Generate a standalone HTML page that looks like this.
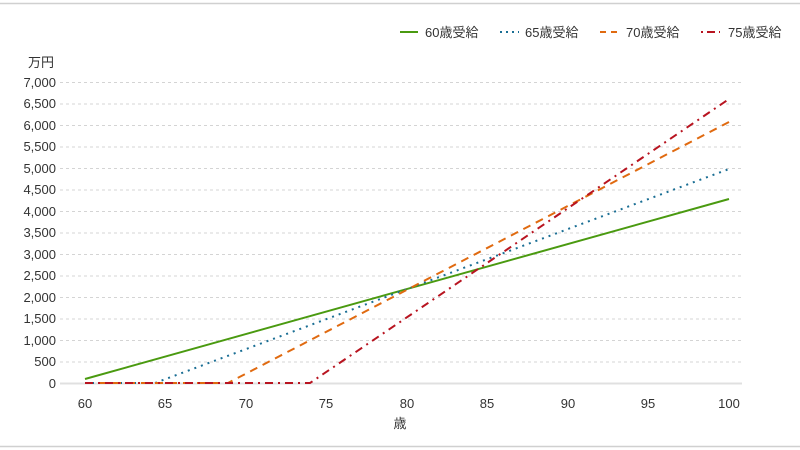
<!DOCTYPE html>
<html><head><meta charset="utf-8"><style>
body{margin:0;background:#fff;}
svg{display:block;font-family:"Liberation Sans","Noto Sans CJK JP",sans-serif;}
</style></head><body>
<svg width="800" height="450" viewBox="0 0 800 450">
<line x1="0" y1="3.5" x2="800" y2="3.5" stroke="#d0d0d0" stroke-width="1.5"/>
<line x1="0" y1="446.5" x2="800" y2="446.5" stroke="#d0d0d0" stroke-width="1.5"/>
<g stroke="#d4d4d4" stroke-width="1" stroke-dasharray="3,3">
<line x1="60" y1="82.5" x2="742" y2="82.5"/><line x1="60" y1="104" x2="742" y2="104"/>
<line x1="60" y1="125.5" x2="742" y2="125.5"/><line x1="60" y1="147" x2="742" y2="147"/>
<line x1="60" y1="168.5" x2="742" y2="168.5"/><line x1="60" y1="190" x2="742" y2="190"/>
<line x1="60" y1="211.5" x2="742" y2="211.5"/><line x1="60" y1="233" x2="742" y2="233"/>
<line x1="60" y1="254.5" x2="742" y2="254.5"/><line x1="60" y1="276" x2="742" y2="276"/>
<line x1="60" y1="297.5" x2="742" y2="297.5"/><line x1="60" y1="319" x2="742" y2="319"/>
<line x1="60" y1="340.5" x2="742" y2="340.5"/><line x1="60" y1="362" x2="742" y2="362"/>
</g>
<line x1="60" y1="383.5" x2="742" y2="383.5" stroke="#e0e0e0" stroke-width="2"/>
<g font-size="13" fill="#333" text-anchor="end">
<text x="56" y="87">7,000</text><text x="56" y="108">6,500</text><text x="56" y="130">6,000</text>
<text x="56" y="151">5,500</text><text x="56" y="173">5,000</text><text x="56" y="194">4,500</text>
<text x="56" y="216">4,000</text><text x="56" y="237">3,500</text><text x="56" y="259">3,000</text>
<text x="56" y="280">2,500</text><text x="56" y="302">2,000</text><text x="56" y="323">1,500</text>
<text x="56" y="345">1,000</text><text x="56" y="366">500</text><text x="56" y="388">0</text>
</g>
<text x="28" y="67" font-size="13" fill="#333">万円</text>
<g font-size="13" fill="#333" text-anchor="middle">
<text x="85" y="408">60</text><text x="165" y="408">65</text><text x="246" y="408">70</text>
<text x="326" y="408">75</text><text x="407" y="408">80</text><text x="487" y="408">85</text>
<text x="568" y="408">90</text><text x="648" y="408">95</text><text x="729" y="408">100</text>
<text x="400" y="428">歳</text>
</g>
<g fill="none" stroke-width="2">
<polyline points="85,379 729,199" stroke="#4a9a10"/>
<polyline points="85,383 155,383 729,169" stroke="#1a6e94" stroke-dasharray="2,5"/>
<polyline points="85,383 228,383 729,122" stroke="#e06a10" stroke-dasharray="8,6"/>
<polyline points="85,383 310,383 729,99" stroke="#b81420" stroke-dasharray="8,5,2,5"/>
</g>
<g font-size="13" fill="#333">
<line x1="400" y1="32" x2="418" y2="32" stroke="#4a9a10" stroke-width="2"/><text x="425" y="37">60歳受給</text>
<line x1="500" y1="32" x2="519" y2="32" stroke="#1a6e94" stroke-width="2" stroke-dasharray="2,4"/><text x="525" y="37">65歳受給</text>
<line x1="600" y1="32" x2="618" y2="32" stroke="#e06a10" stroke-width="2" stroke-dasharray="6,5"/><text x="626" y="37">70歳受給</text>
<line x1="701" y1="32" x2="720" y2="32" stroke="#b81420" stroke-width="2" stroke-dasharray="2,4,8,4"/><text x="728" y="37">75歳受給</text>
</g>
</svg>
</body></html>
